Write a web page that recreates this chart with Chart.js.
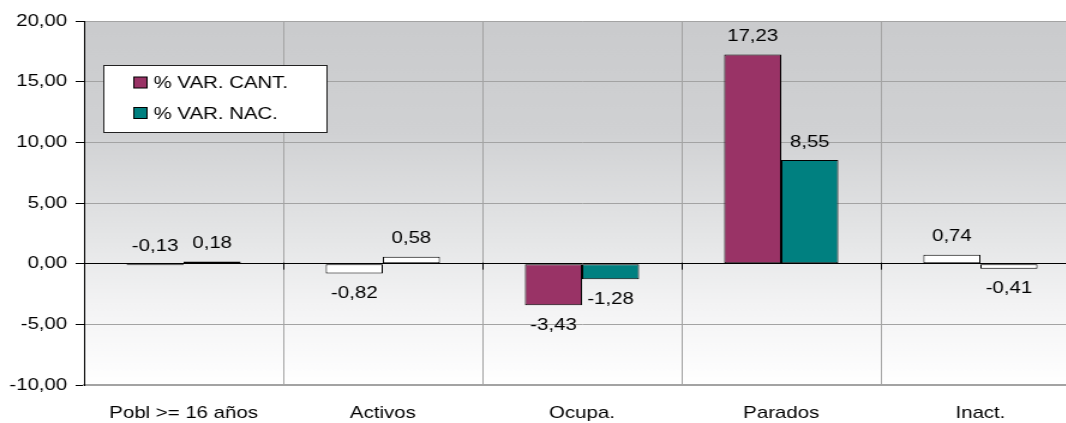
<!DOCTYPE html>
<html>
<head>
<meta charset="utf-8">
<script src="https://cdn.jsdelivr.net/npm/chart.js@4/dist/chart.umd.min.js"></script>
<style>
  html, body { margin: 0; padding: 0; background: #fff; overflow: hidden; width: 1066px; height: 423px; }
  #wrap { width: 900px; height: 423px; transform: scale(1.2, 1); transform-origin: 0 0; }
  canvas { display: block; }
</style>
</head>
<body>
<div id="wrap"><canvas id="c" width="900" height="423"></canvas></div>
<script>
// ---- data ----
const categories = ['Pobl >= 16 años', 'Activos', 'Ocupa.', 'Parados', 'Inact.'];
const seriesNames = ['% VAR. CANT.', '% VAR. NAC.'];
const varCant = [-0.13, -0.82, -3.43, 17.23, 0.74];
const varNac = [0.18, 0.58, -1.28, 8.55, -0.41];
const yTicks = [-10, -5, 0, 5, 10, 15, 20];

// ---- styles ----
const COLORS = ['#993366', '#008080'];
const FILLED_CATS = ['Ocupa.', 'Parados'];
const FONT = "'Liberation Sans', Arial, sans-serif";
const GRID = '#a3a3a3';

function fmt(v) { return v.toFixed(2).replace('.', ','); }

const bgPlugin = {
  id: 'bg',
  beforeDraw(chart) {
    const { ctx, chartArea: a } = chart;
    const g = ctx.createLinearGradient(0, a.top, 0, a.bottom);
    g.addColorStop(0, '#cacbcd');
    g.addColorStop(0.3, '#d0d1d3');
    g.addColorStop(0.6, '#e5e6e7');
    g.addColorStop(0.78, '#f3f3f4');
    g.addColorStop(1, '#ffffff');
    ctx.save();
    ctx.fillStyle = g;
    ctx.fillRect(a.left, a.top, a.right - a.left, a.bottom - a.top);
    ctx.restore();
  }
};

const overlayPlugin = {
  id: 'overlay',
  afterDatasetsDraw(chart) {
    const { ctx, scales } = chart;
    const x = scales.x, y = scales.y;
    const y0 = y.getPixelForValue(0);
    ctx.save();
    ctx.strokeStyle = '#000';
    ctx.lineWidth = 1;
    const half = (x.getPixelForValue(1) - x.getPixelForValue(0)) / 2;
    for (let i = 1; i < categories.length; i++) {
      const px = Math.round(x.getPixelForValue(i) - half) + 0.5;
      ctx.beginPath(); ctx.moveTo(px, y0 - 1); ctx.lineTo(px, y0 + 6); ctx.stroke();
    }
    ctx.fillStyle = '#000';
    ctx.font = '17px ' + FONT;
    ctx.textAlign = 'center';
    ctx.textBaseline = 'middle';
    chart.data.datasets.forEach((ds, di) => {
      const meta = chart.getDatasetMeta(di);
      meta.data.forEach((el, i) => {
        const v = ds.data[i];
        const top = Math.min(el.y, el.base), bot = Math.max(el.y, el.base);
        const ly = v > -0.2 ? top - 18 : bot + 20;
        ctx.fillText(fmt(v), el.x, ly);
      });
    });
    // legend
    const lx = 86.5, ly = 65.5, lw = 186, lh = 67;
    ctx.fillStyle = '#fff';
    ctx.fillRect(lx, ly, lw, lh);
    ctx.strokeStyle = '#222';
    ctx.strokeRect(lx, ly, lw, lh);
    const rows = [82.5, 113];
    seriesNames.forEach((name, i) => {
      ctx.fillStyle = COLORS[i];
      ctx.fillRect(111.5, rows[i] - 5.5, 11, 11);
      ctx.strokeStyle = '#000';
      ctx.strokeRect(111.5, rows[i] - 5.5, 11, 11);
      ctx.fillStyle = '#000';
      ctx.textAlign = 'left';
      ctx.fillText(name, 128, rows[i] + 1);
    });
    ctx.restore();
  }
};

function mkDataset(i, values) {
  return {
    label: seriesNames[i],
    data: values,
    backgroundColor: (c) => FILLED_CATS.includes(categories[c.dataIndex]) ? COLORS[i] : '#ffffff',
    borderColor: '#000',
    borderWidth: 1,
    borderSkipped: false,
    categoryPercentage: 0.573,
    barPercentage: 1.0
  };
}

new Chart(document.getElementById('c'), {
  type: 'bar',
  data: {
    labels: categories,
    datasets: [mkDataset(0, varCant), mkDataset(1, varNac)]
  },
  options: {
    responsive: false,
    animation: false,
    devicePixelRatio: 1,
    layout: { padding: { top: 21, right: 0, bottom: 0, left: 0 } },
    plugins: { legend: { display: false }, tooltip: { enabled: false } },
    scales: {
      x: {
        grid: { offset: true, color: GRID, drawTicks: false, lineWidth: 1 },
        border: { color: GRID, width: 2 },
        ticks: { color: '#000', font: { family: FONT, size: 17 }, padding: 18, maxRotation: 0, autoSkip: false },
        afterFit(s) { s.height = 38; }
      },
      y: {
        min: yTicks[0], max: yTicks[yTicks.length - 1],
        afterBuildTicks(s) { s.ticks = yTicks.map(v => ({ value: v })); },
        grid: {
          color: (c) => c.tick && c.tick.value === 0 ? '#000' : GRID,
          tickColor: '#000', tickLength: 7, lineWidth: 1
        },
        border: { color: '#000', width: 1 },
        ticks: { color: '#000', font: { family: FONT, size: 17 }, padding: 7, callback: (v) => fmt(v) },
        afterFit(s) { s.width = 70; }
      }
    }
  },
  plugins: [bgPlugin, overlayPlugin]
});
</script>
</body>
</html>
